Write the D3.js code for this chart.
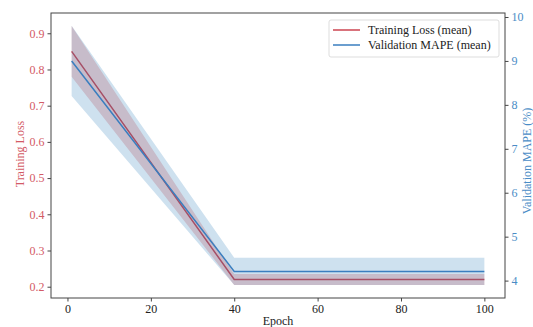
<!DOCTYPE html>
<html>
<head>
<meta charset="utf-8">
<script src="https://cdn.jsdelivr.net/npm/d3@7"></script>
<style>
  body { margin: 0; background: #fff; }
  text { font-family: "Liberation Serif", "DejaVu Serif", serif; }
</style>
</head>
<body>
<div id="chart"></div>
<script>
// Data (epoch checkpoints)
var epochs = [1, 40, 100];
var lossMean = [0.85, 0.22, 0.22];
var lossStd = [0.07, 0.015, 0.015];
var mapeMean = [9.0, 4.21, 4.21];
var mapeStd = [0.8, 0.31, 0.31];

var xTicks = [0, 20, 40, 60, 80, 100];
var lossTicks = [0.2, 0.3, 0.4, 0.5, 0.6, 0.7, 0.8, 0.9];
var mapeTicks = [4, 5, 6, 7, 8, 9, 10];

var width = 533, height = 327;
var plot = { left: 51, right: 505, top: 13, bottom: 298 };

var red = "#cc4450", blue = "#3a7ebf";
var redText = "#d35a66", blueText = "#4a8cc6";

var svg = d3.select("#chart").append("svg")
  .attr("width", width)
  .attr("height", height);

var x = d3.scaleLinear().domain([-3.95, 104.95]).range([plot.left, plot.right]);
var yL = d3.scaleLinear().domain([0.1688, 0.956]).range([plot.bottom, plot.top]);
var yR = d3.scaleLinear().domain([3.604, 10.091]).range([plot.bottom, plot.top]);

var rows = epochs.map(function (e, i) {
  return { e: e, lm: lossMean[i], ls: lossStd[i], mm: mapeMean[i], ms: mapeStd[i] };
});

// loss band + line (left axis)
svg.append("path")
  .datum(rows)
  .attr("fill", "rgb(214,39,40)")
  .attr("fill-opacity", 0.22)
  .attr("d", d3.area()
    .x(function (d) { return x(d.e); })
    .y0(function (d) { return yL(d.lm - d.ls); })
    .y1(function (d) { return yL(d.lm + d.ls); }));

svg.append("path")
  .datum(rows)
  .attr("fill", "none")
  .attr("stroke", red)
  .attr("stroke-width", 1.5)
  .attr("d", d3.line()
    .x(function (d) { return x(d.e); })
    .y(function (d) { return yL(d.lm); }));

// mape band + line (right axis, drawn on top like a twin axis)
svg.append("path")
  .datum(rows)
  .attr("fill", "rgb(31,119,180)")
  .attr("fill-opacity", 0.22)
  .attr("d", d3.area()
    .x(function (d) { return x(d.e); })
    .y0(function (d) { return yR(d.mm - d.ms); })
    .y1(function (d) { return yR(d.mm + d.ms); }));

svg.append("path")
  .datum(rows)
  .attr("fill", "none")
  .attr("stroke", blue)
  .attr("stroke-width", 1.5)
  .attr("d", d3.line()
    .x(function (d) { return x(d.e); })
    .y(function (d) { return yR(d.mm); }));

// frame
svg.append("rect")
  .attr("x", plot.left)
  .attr("y", plot.top)
  .attr("width", plot.right - plot.left)
  .attr("height", plot.bottom - plot.top)
  .attr("fill", "none")
  .attr("stroke", "#444")
  .attr("stroke-width", 1);

// axes
var gx = svg.append("g")
  .attr("transform", "translate(0," + plot.bottom + ")")
  .call(d3.axisBottom(x).tickValues(xTicks).tickSize(3.5).tickPadding(3).tickFormat(d3.format("d")));

var gl = svg.append("g")
  .attr("transform", "translate(" + plot.left + ",0)")
  .call(d3.axisLeft(yL).tickValues(lossTicks).tickSize(3.5).tickPadding(3).tickFormat(d3.format(".1f")));

var gr = svg.append("g")
  .attr("transform", "translate(" + plot.right + ",0)")
  .call(d3.axisRight(yR).tickValues(mapeTicks).tickSize(3.5).tickPadding(3).tickFormat(d3.format("d")));

[gx, gl, gr].forEach(function (g) {
  g.select(".domain").remove();
  g.selectAll(".tick line").attr("stroke", "#444");
  g.selectAll(".tick text")
    .style("font-family", '"Liberation Serif", serif')
    .style("font-size", "12px");
});
gx.selectAll(".tick text").attr("fill", "#222");
gl.selectAll(".tick text").attr("fill", redText);
gr.selectAll(".tick text").attr("fill", blueText);

// axis labels
svg.append("text")
  .attr("x", (plot.left + plot.right) / 2)
  .attr("y", 325)
  .attr("text-anchor", "middle")
  .attr("font-size", 12)
  .attr("fill", "#222")
  .text("Epoch");

svg.append("text")
  .attr("transform", "translate(23.5,154) rotate(-90)")
  .attr("text-anchor", "middle")
  .attr("font-size", 12)
  .attr("fill", redText)
  .text("Training Loss");

// right label sits partly outside the canvas in the reference
svg.append("text")
  .attr("transform", "translate(531,161) rotate(-90)")
  .attr("text-anchor", "middle")
  .attr("font-size", 12)
  .attr("fill", blueText)
  .text("Validation MAPE (%)");

// legend
var legend = svg.append("g").attr("transform", "translate(329,20)");
legend.append("rect")
  .attr("width", 170)
  .attr("height", 37)
  .attr("rx", 2)
  .attr("fill", "#fff")
  .attr("fill-opacity", 0.85)
  .attr("stroke", "#ddd");

var legendItems = [
  { label: "Training Loss (mean)", color: red },
  { label: "Validation MAPE (mean)", color: blue }
];
legendItems.forEach(function (d, i) {
  var yy = 10 + i * 15;
  legend.append("line")
    .attr("x1", 4).attr("x2", 31)
    .attr("y1", yy).attr("y2", yy)
    .attr("stroke", d.color)
    .attr("stroke-width", 1.5);
  legend.append("text")
    .attr("x", 39)
    .attr("y", yy + 4)
    .attr("font-size", 12)
    .attr("fill", "#222")
    .text(d.label);
});
</script>
</body>
</html>
